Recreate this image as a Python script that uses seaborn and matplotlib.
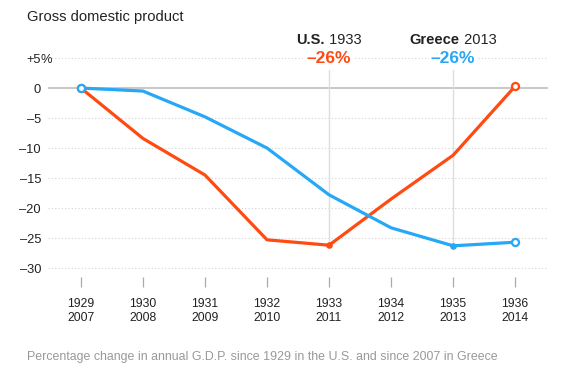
import matplotlib
matplotlib.use('Agg')
import matplotlib.pyplot as plt
from matplotlib.offsetbox import TextArea, HPacker, AnnotationBbox
import seaborn as sns
import pandas as pd
import numpy as np

# 데이터
us_years = ['1929', '1930', '1931', '1932', '1933', '1934', '1935', '1936']
gr_years = ['2007', '2008', '2009', '2010', '2011', '2012', '2013', '2014']
us_gdp = [0, -8.4, -14.5, -25.3, -26.2, -18.5, -11.2, 0.3]
gr_gdp = [0, -0.5, -4.8, -10.0, -17.8, -23.3, -26.3, -25.7]
y_ticks = [5, 0, -5, -10, -15, -20, -25, -30]
y_labels = ['+5', '0', '–5', '–10', '–15', '–20', '–25', '–30']

RED = '#ff4a12'
BLUE = '#26a8f6'
FONT = 'Liberation Sans'

sns.set_theme(style='white')
plt.rcParams['font.family'] = [FONT, 'DejaVu Sans']

pos = np.arange(len(us_years))
df = pd.concat([
    pd.DataFrame({'pos': pos, 'gdp': us_gdp, 'country': 'U.S.'}),
    pd.DataFrame({'pos': pos, 'gdp': gr_gdp, 'country': 'Greece'}),
])
palette = {'U.S.': RED, 'Greece': BLUE}

fig = plt.figure(figsize=(5.65, 3.85), dpi=100)
ax = fig.add_axes([0.085, 0.2805, 0.885, 0.5765])

# 그리드
for yv in y_ticks:
    if yv == 0:
        ax.axhline(0, color='#c8c8c8', lw=1.4, zorder=1)
    else:
        ax.axhline(yv, color='#d4d4d4', lw=0.8, ls=(0, (1, 2)), zorder=1)

# 최저점 세로선
for name, vals in [('U.S.', us_gdp), ('Greece', gr_gdp)]:
    i = int(np.argmin(vals))
    ax.plot([pos[i], pos[i]], [3, vals[i]], color='#dddddd', lw=1, zorder=1)

sns.lineplot(data=df, x='pos', y='gdp', hue='country', palette=palette,
             linewidth=2.3, legend=False, ax=ax, zorder=3)

# 마커: 양 끝 흰 원, 최저점 작은 점
for name, vals in [('Greece', gr_gdp), ('U.S.', us_gdp)]:
    c = palette[name]
    ends = [0, len(vals) - 1] if name == 'U.S.' else [len(vals) - 1]
    ax.scatter(pos[ends], np.array(vals)[ends], s=26, facecolor='white',
               edgecolor=c, linewidth=1.6, zorder=5)
    i = int(np.argmin(vals))
    ax.scatter([pos[i]], [vals[i]], s=14, color=c, zorder=5)
ax.scatter([pos[0]], [gr_gdp[0]], s=26, facecolor='white', edgecolor=BLUE,
           linewidth=1.6, zorder=6)

# 주석
for name, yr, vals, c in [('U.S.', us_years, us_gdp, RED),
                          ('Greece', gr_years, gr_gdp, BLUE)]:
    i = int(np.argmin(vals))
    box = HPacker(children=[
        TextArea(name, textprops=dict(fontweight='bold', fontsize=10.5, color='#222222')),
        TextArea(' ' + yr[i], textprops=dict(fontsize=10.5, color='#222222')),
    ], align='baseline', pad=0, sep=0)
    ab = AnnotationBbox(box, (pos[i], 8), frameon=False, box_alignment=(0.5, 0.5),
                        annotation_clip=False)
    ax.add_artist(ab)
    ax.text(pos[i], 5, f'–{abs(round(vals[i]))}%', color=c, fontsize=12.5,
            fontweight='bold', ha='center', va='center', zorder=4,
            bbox=dict(facecolor='white', edgecolor='none', pad=1.5))

ax.set_xlim(-0.53, 7.53)
ax.set_ylim(-31.5, 5.5)
ax.set_xticks(pos, [f'{a}\n{b}' for a, b in zip(us_years, gr_years)])
ax.set_yticks(y_ticks, y_labels)
ax.tick_params(axis='x', direction='out', length=7, width=0.9, color='#aaaaaa',
               pad=8, labelsize=8.8, labelcolor='#222222', bottom=True)
ax.tick_params(axis='y', length=0, pad=5, labelsize=9.3, labelcolor='#222222')
for lbl in ax.get_xticklabels():
    lbl.set_linespacing(1.2)
ax.set_ylabel('')
ax.set_xlabel('')
sns.despine(ax=ax, left=True, bottom=True)
ax.grid(False)

# +5 뒤에 % 붙이기
fig.canvas.draw()
top_lbl = ax.get_yticklabels()[0]
ax.annotate('%', xy=(1, 0), xycoords=top_lbl, xytext=(-0.7, 0),
            textcoords='offset points', ha='left', va='bottom',
            fontsize=9.3, color='#222222', annotation_clip=False)

fig.text(27 / 565, 1 - 17 / 385, 'Gross domestic product', fontsize=10.6,
         color='#222222', ha='left', va='center')
fig.text(27 / 565, 1 - 357 / 385,
         'Percentage change in annual G.D.P. since 1929 in the U.S. and since 2007 in Greece',
         fontsize=8.9, color='#999999', ha='left', va='center')

fig.savefig('out.png', dpi=100)
